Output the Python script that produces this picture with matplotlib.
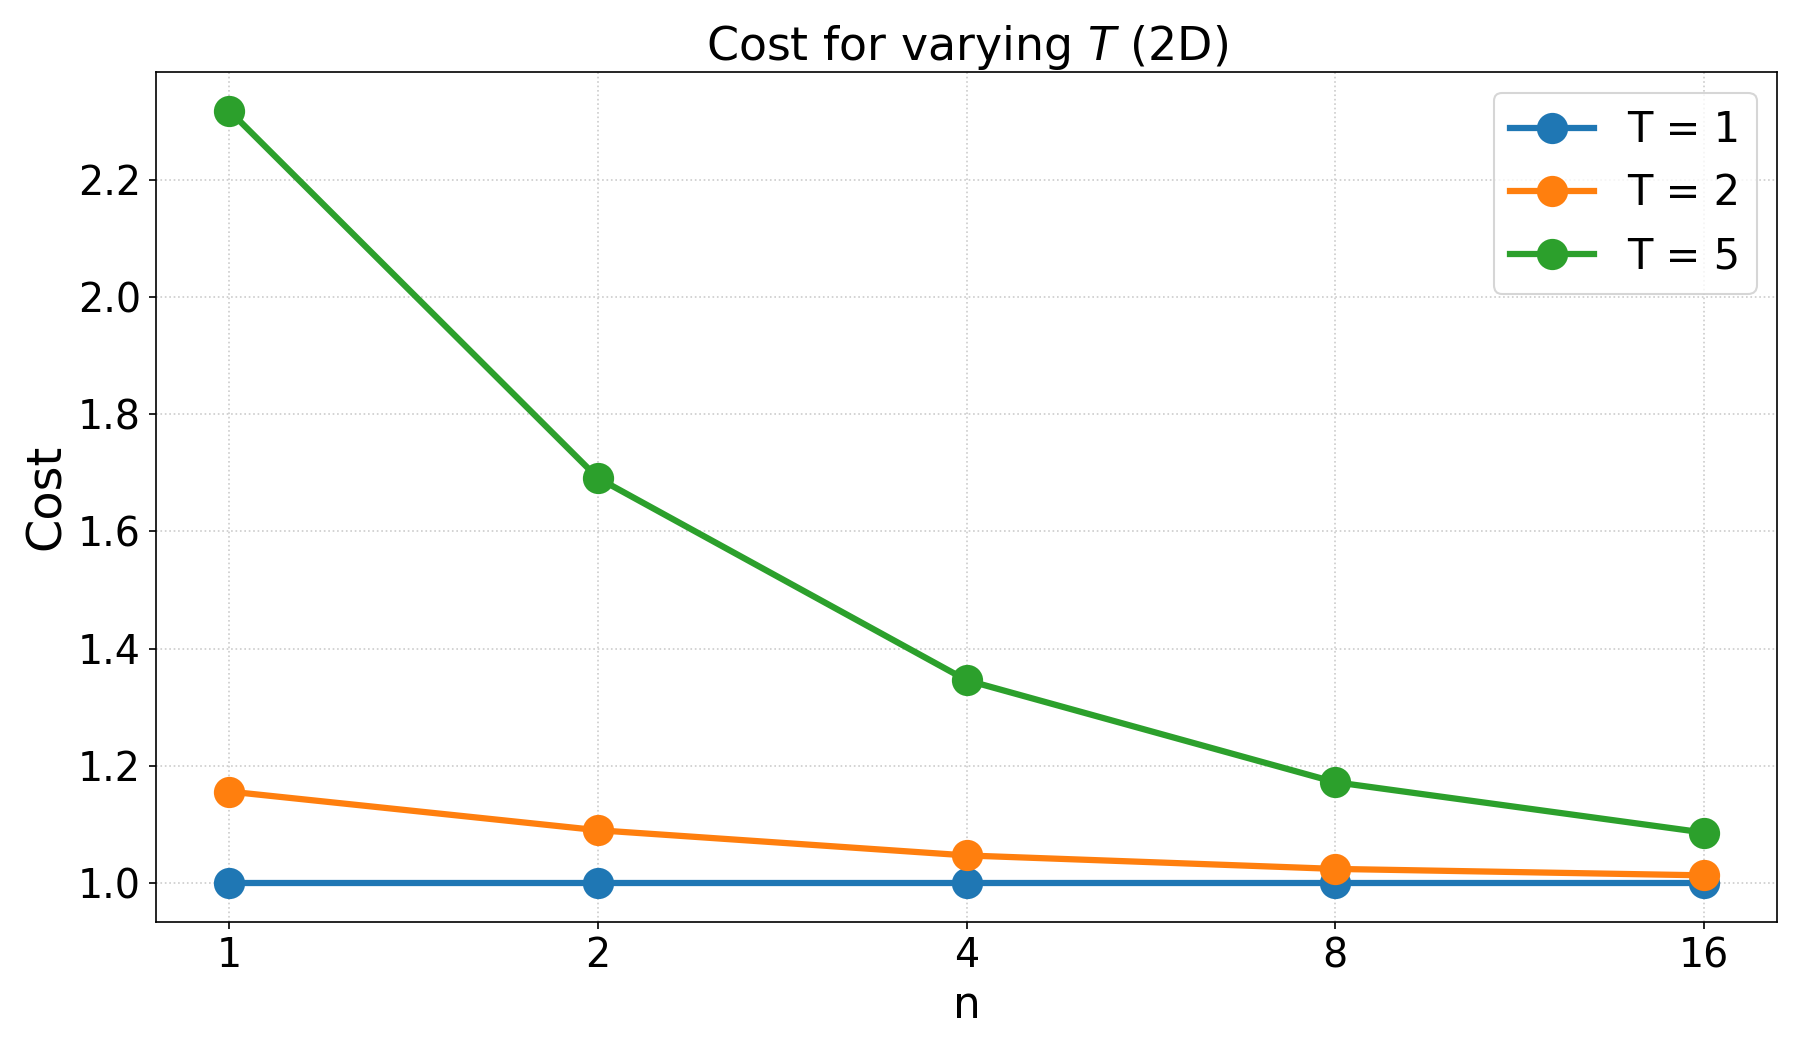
import matplotlib
matplotlib.use("Agg")
import matplotlib.pyplot as plt

n_values = [1, 2, 4, 8, 16]
cost_t1 = [1.0, 1.0, 1.0, 1.0, 1.0]
cost_t2 = [1.156, 1.090, 1.047, 1.024, 1.013]
cost_t5 = [2.318, 1.691, 1.346, 1.172, 1.086]
series_labels = ["T = 1", "T = 2", "T = 5"]

fig, ax = plt.subplots(figsize=(12, 7), dpi=150)

for vals, label in zip([cost_t1, cost_t2, cost_t5], series_labels):
    ax.plot(n_values, vals, marker="o", linewidth=3, markersize=14, label=label)

ax.set_xscale("log", base=2)
ax.set_xticks(n_values)
ax.set_xticklabels([str(v) for v in n_values])
ax.minorticks_off()
ax.tick_params(labelsize=19)

ax.set_xlabel("n", fontsize=21)
ax.set_ylabel("Cost", fontsize=23)
ax.set_title("Cost for varying $T$ (2D)", fontsize=22)

ax.grid(True, linestyle=":", color="#cccccc", linewidth=0.8)
ax.legend(fontsize=20)

plt.tight_layout()
plt.savefig("out.png")
